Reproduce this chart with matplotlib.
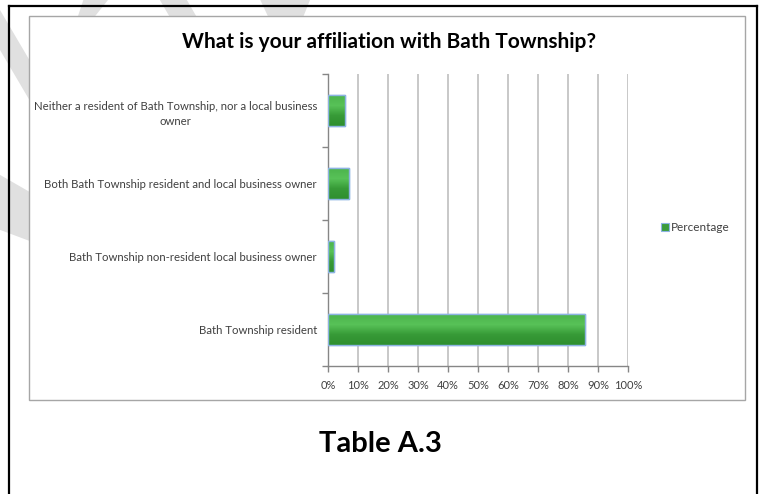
import numpy as np
import matplotlib.pyplot as plt
from matplotlib.patches import Rectangle, Polygon
from matplotlib.colors import LinearSegmentedColormap

# Survey responses (share of respondents)
categories = [
    "Bath Township resident",
    "Bath Township non-resident local business owner",
    "Both Bath Township resident and local business owner",
    "Neither a resident of Bath Township, nor a local business\nowner",
]
percentages = [85.6, 2.0, 7.0, 5.8]
x_ticks = list(range(0, 101, 10))
x_tick_labels = [f"{t}%" for t in x_ticks]
series_name = "Percentage"
title = "What is your affiliation with Bath Township?"
caption = "Table A.3"

FONT = "Lato"
W, H = 765, 494
fig = plt.figure(figsize=(W / 100, H / 100), dpi=100)
fig.patch.set_facecolor("white")


def fx(px):
    return px / W


def fy(py):
    return 1 - py / H


# faint watermark strokes behind the chart frame
wm_color = "#e0e0e0"
strokes = [
    [(-20, -24), (60, 112), (60, 152), (-20, 16)],
    [(85, -5), (112, -5), (88, 25), (75, 25)],
    [(157, -5), (184, -5), (210, 40), (183, 40)],
    [(258, -5), (312, -5), (300, 25), (272, 25)],
    [(-5, 172), (35, 195), (35, 243), (-5, 228)],
]
for pts in strokes:
    fig.patches.append(Polygon([(fx(x), fy(y)) for x, y in pts], closed=True,
                               transform=fig.transFigure, facecolor=wm_color,
                               edgecolor="none", zorder=0))

# outer page border
for xs, ys in [([9, 9], [6, 500]), ([757, 757], [6, 500]), ([9, 757], [6, 6])]:
    fig.add_artist(plt.Line2D([fx(v) for v in xs], [fy(v) for v in ys],
                              transform=fig.transFigure, color="black",
                              lw=1.6, zorder=1))

# chart frame
fig.patches.append(Rectangle((fx(29), fy(400)), fx(745) - fx(29), fy(16) - fy(400),
                             transform=fig.transFigure, facecolor="white",
                             edgecolor="#a6a6a6", lw=1.0, zorder=2))

ax = fig.add_axes([fx(328), fy(366), fx(628) - fx(328), fy(74) - fy(366)])
ax.set_zorder(3)
ax.patch.set_alpha(0)

y = np.arange(len(categories))
bars = ax.barh(y, percentages, height=0.42, color="#3c9c3c",
               edgecolor="#8db3e2", linewidth=1.0, zorder=3)

# soft vertical shading inside each bar
grad = np.linspace(0, 1, 64).reshape(-1, 1)
cmap = LinearSegmentedColormap.from_list(
    "bevel", ["#2f8f2f", "#379a37", "#58c258", "#4cb44c"])
for b in bars:
    x0, y0 = b.get_x(), b.get_y()
    w, h = b.get_width(), b.get_height()
    im = ax.imshow(grad, extent=[x0, x0 + w, y0, y0 + h], aspect="auto",
                   cmap=cmap, origin="lower", zorder=3.5, interpolation="bilinear")
    im.set_clip_path(b)
    ax.add_patch(Rectangle((x0, y0), w, h, facecolor="none",
                           edgecolor="#8db3e2", lw=1.0, zorder=4))

ax.set_xlim(0, 100)
ax.set_ylim(-0.5, len(categories) - 0.5)
ax.set_xticks(x_ticks)
ax.set_xticklabels(x_tick_labels, fontsize=8, color="#404040", family=FONT)
ax.set_yticks(y)
ax.set_yticklabels(categories, fontsize=8.2, color="#404040", family=FONT,
                   multialignment="center", linespacing=1.45)
ax.set_yticks(np.arange(-0.5, len(categories), 1.0), minor=True)

ax.tick_params(axis="y", which="major", length=0, pad=8)
ax.tick_params(axis="y", which="minor", length=4, color="#868686", width=1)
ax.tick_params(axis="x", which="major", length=4, color="#868686", width=1, pad=6)

ax.grid(axis="x", color="#c4c4c4", lw=1.3, zorder=1)
ax.set_axisbelow(True)
for s in ("top", "right"):
    ax.spines[s].set_visible(False)
for s in ("left", "bottom"):
    ax.spines[s].set_color("#868686")
    ax.spines[s].set_linewidth(1.0)

# title and legend
fig.text(fx(389), fy(42), title, ha="center", va="center", fontsize=15,
         fontweight="bold", family=FONT, color="black", zorder=5)
fig.patches.append(Rectangle((fx(661), fy(231)), fx(8), fy(223) - fy(231),
                             transform=fig.transFigure, facecolor="#3c9c3c",
                             edgecolor="#8db3e2", lw=0.8, zorder=5))
fig.text(fx(671), fy(227), series_name, ha="left", va="center", fontsize=8.5,
         family=FONT, color="#404040", zorder=5)

fig.text(fx(380), fy(444), caption, ha="center", va="center", fontsize=21,
         fontweight="bold", family=FONT, color="black")

fig.savefig("out.png", dpi=100)
